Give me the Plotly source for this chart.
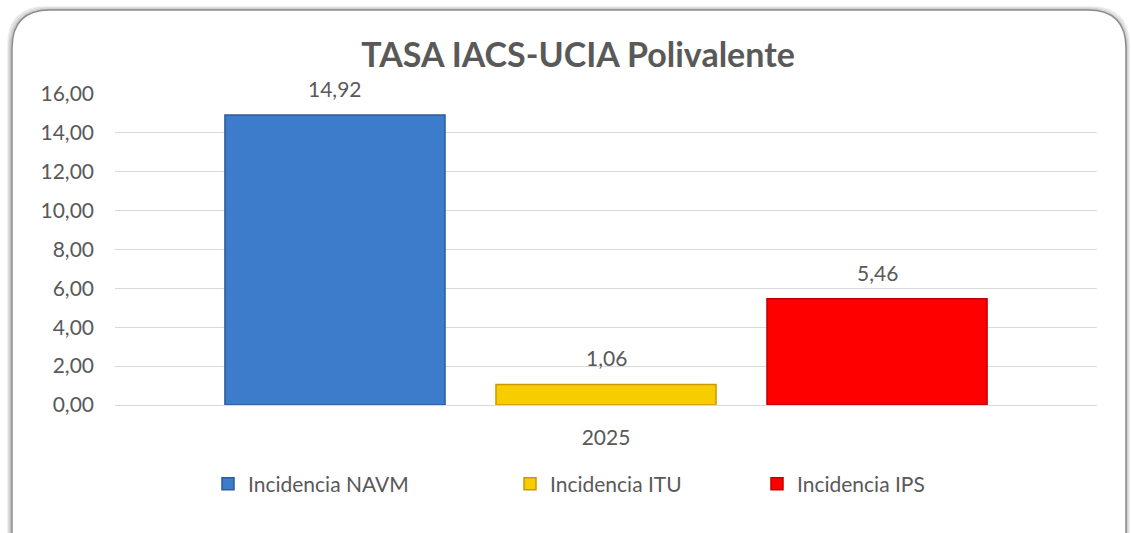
import plotly.graph_objects as go

# ---- data ----
categories = ["2025"]
series_names = ["Incidencia NAVM", "Incidencia ITU", "Incidencia IPS"]
navm_values = [14.92]
itu_values = [1.06]
ips_values = [5.46]
y_ticks = [0, 2, 4, 6, 8, 10, 12, 14, 16]
title_text = "TASA IACS-UCIA Polivalente"

# ---- style ----
W, H = 1131, 533
ML, MR, MT, MB = 115, 34, 94, 128
PW, PH = W - ML - MR, H - MT - MB
FONT = "Lato"
GREY = "#595959"
colors = ["#3D7BCB", "#F7CD00", "#FF0000"]
edges = ["#2C5C99", "#C99A00", "#C00000"]
BARGAP = 0.172
GROUPGAP = 0.188


def X(px):
    return (px - ML) / PW


def Y(py):
    return (MT + PH - py) / PH


fig = go.Figure()
all_values = [navm_values, itu_values, ips_values]
legends = ["legend", "legend2", "legend3"]
for name, vals, c, e, lg in zip(series_names, all_values, colors, edges, legends):
    fig.add_trace(go.Bar(
        x=categories, y=vals, name=name,
        marker=dict(color=c, line=dict(color=e, width=1.5)),
        legend=lg, hoverinfo="x+y+name",
    ))

# data labels, positioned over each grouped bar using the bar layout fractions
n = len(all_values)
slot = (1 - BARGAP) / n
for i, vals in enumerate(all_values):
    for j, v in enumerate(vals):
        fig.add_annotation(
            x=j - (1 - BARGAP) / 2 + slot * (i + 0.5), y=v, xref="x", yref="y",
            text=f"{v:.2f}".replace(".", ","), showarrow=False,
            yanchor="bottom", yshift=12,
            font=dict(family=FONT, size=21, color=GREY),
        )

# rounded frame with soft shadow
def frame_path(l, t, r, b, rad):
    return (f"M {X(l)},{Y(t + rad)} Q {X(l)},{Y(t)} {X(l + rad)},{Y(t)} "
            f"L {X(r - rad)},{Y(t)} Q {X(r)},{Y(t)} {X(r)},{Y(t + rad)} "
            f"L {X(r)},{Y(b)} L {X(l)},{Y(b)} Z")

shapes = []
for k, op in [(4, 0.10), (3, 0.15), (2, 0.22), (1, 0.3)]:
    shapes.append(dict(type="path", xref="paper", yref="paper", layer="below",
                       path=frame_path(12 - k, 10 - k + 1, 1126 + k - 1, 560, 38),
                       line=dict(color=f"rgba(120,120,120,{op})", width=2),
                       fillcolor="rgba(0,0,0,0)"))
shapes.append(dict(type="path", xref="paper", yref="paper", layer="below",
                   path=frame_path(12, 10, 1126, 560, 38),
                   line=dict(color="#8c8c8c", width=1.5), fillcolor="white"))

legend_common = dict(orientation="h", yanchor="middle", y=Y(484), xanchor="left",
                     font=dict(family=FONT, size=21, color=GREY),
                     bgcolor="rgba(0,0,0,0)", itemclick=False, itemdoubleclick=False)

fig.update_layout(
    width=W, height=H,
    margin=dict(l=ML, r=MR, t=MT, b=MB, autoexpand=False),
    paper_bgcolor="white", plot_bgcolor="rgba(0,0,0,0)",
    separators=",.",
    barmode="group", bargap=BARGAP, bargroupgap=GROUPGAP,
    title=dict(text=f"<b>{title_text}</b>", xref="container", x=578 / W, xanchor="center",
               y=1 - 55 / H, yanchor="middle",
               font=dict(family=FONT, size=34, color=GREY)),
    font=dict(family=FONT, color=GREY),
    shapes=shapes,
    showlegend=True,
    legend=dict(x=X(208), **legend_common),
    legend2=dict(x=X(510), **legend_common),
    legend3=dict(x=X(757), **legend_common),
    yaxis=dict(range=[0, 16], tickvals=y_ticks, tickformat=".2f",
               showgrid=True, gridcolor="#D9D9D9", gridwidth=1,
               zeroline=True, zerolinecolor="#D9D9D9", zerolinewidth=1,
               showline=False, ticks="", ticklabelstandoff=20,
               tickfont=dict(family=FONT, size=21, color=GREY), fixedrange=True),
    xaxis=dict(showline=False, ticks="", ticklabelstandoff=18,
               tickfont=dict(family=FONT, size=21, color=GREY), fixedrange=True),
)

fig.write_html(
    "out.html",
    config={"displayModeBar": False},
    post_script="document.body.style.margin='0';document.body.style.overflow='hidden';",
)
